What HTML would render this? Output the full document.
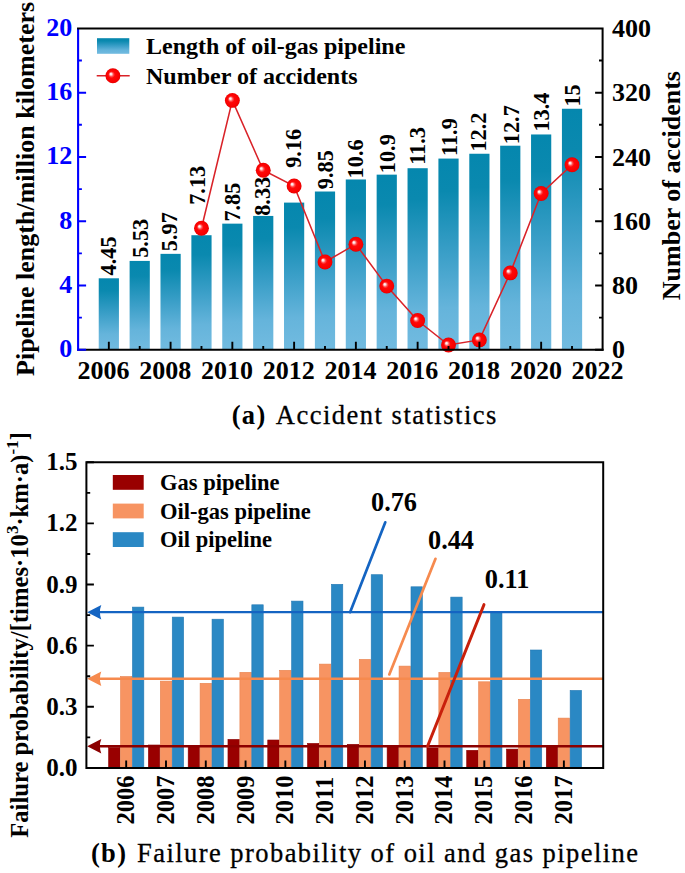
<!DOCTYPE html><html><head><meta charset="utf-8"><style>html,body{margin:0;padding:0;background:#fff;width:685px;height:873px;overflow:hidden;}svg{display:block}</style></head><body>
<svg width="685" height="873" viewBox="0 0 685 873">
<defs>
<linearGradient id="bg" x1="0" y1="0" x2="0" y2="1">
<stop offset="0" stop-color="#0587ae"/><stop offset="0.17" stop-color="#0a89af"/><stop offset="0.5" stop-color="#3b9fc8"/><stop offset="0.78" stop-color="#65b4db"/><stop offset="1" stop-color="#72bbe0"/>
</linearGradient>
<radialGradient id="ball" cx="0.5" cy="0.5" r="0.5" fx="0.345" fy="0.365">
<stop offset="0" stop-color="#ffffff"/><stop offset="0.12" stop-color="#ffe2e2"/><stop offset="0.3" stop-color="#ff4c4c"/><stop offset="0.45" stop-color="#ff0808"/><stop offset="0.9" stop-color="#f60000"/><stop offset="1" stop-color="#dc0000"/>
</radialGradient>
</defs>
<rect width="685" height="873" fill="#fff"/>
<rect x="98.73" y="278.29" width="20.2" height="71.51" fill="url(#bg)"/>
<rect x="129.61" y="260.93" width="20.2" height="88.87" fill="url(#bg)"/>
<rect x="160.49" y="253.86" width="20.2" height="95.94" fill="url(#bg)"/>
<rect x="191.37" y="235.22" width="20.2" height="114.58" fill="url(#bg)"/>
<rect x="222.25" y="223.65" width="20.2" height="126.15" fill="url(#bg)"/>
<rect x="253.13" y="215.94" width="20.2" height="133.86" fill="url(#bg)"/>
<rect x="284.01" y="202.60" width="20.2" height="147.20" fill="url(#bg)"/>
<rect x="314.89" y="191.51" width="20.2" height="158.29" fill="url(#bg)"/>
<rect x="345.77" y="179.46" width="20.2" height="170.34" fill="url(#bg)"/>
<rect x="376.65" y="174.64" width="20.2" height="175.16" fill="url(#bg)"/>
<rect x="407.53" y="168.21" width="20.2" height="181.59" fill="url(#bg)"/>
<rect x="438.41" y="158.57" width="20.2" height="191.23" fill="url(#bg)"/>
<rect x="469.29" y="153.75" width="20.2" height="196.05" fill="url(#bg)"/>
<rect x="500.17" y="145.71" width="20.2" height="204.09" fill="url(#bg)"/>
<rect x="531.05" y="134.46" width="20.2" height="215.34" fill="url(#bg)"/>
<rect x="561.93" y="108.75" width="20.2" height="241.05" fill="url(#bg)"/>
<text transform="translate(116.2,275.4) rotate(-90)" font-family="Liberation Serif" font-weight="bold" font-size="22.3" fill="#000">4.45</text>
<text transform="translate(147.6,257.8) rotate(-90)" font-family="Liberation Serif" font-weight="bold" font-size="22.3" fill="#000">5.53</text>
<text transform="translate(177.4,251.2) rotate(-90)" font-family="Liberation Serif" font-weight="bold" font-size="22.3" fill="#000">5.97</text>
<text transform="translate(205.2,204.8) rotate(-90)" font-family="Liberation Serif" font-weight="bold" font-size="22.3" fill="#000">7.13</text>
<text transform="translate(239.8,221.6) rotate(-90)" font-family="Liberation Serif" font-weight="bold" font-size="22.3" fill="#000">7.85</text>
<text transform="translate(270.0,215.8) rotate(-90)" font-family="Liberation Serif" font-weight="bold" font-size="22.3" fill="#000">8.33</text>
<text transform="translate(301.4,167.8) rotate(-90)" font-family="Liberation Serif" font-weight="bold" font-size="22.3" fill="#000">9.16</text>
<text transform="translate(332.6,189.2) rotate(-90)" font-family="Liberation Serif" font-weight="bold" font-size="22.3" fill="#000">9.85</text>
<text transform="translate(363.4,178.4) rotate(-90)" font-family="Liberation Serif" font-weight="bold" font-size="22.3" fill="#000">10.6</text>
<text transform="translate(394.5,173.2) rotate(-90)" font-family="Liberation Serif" font-weight="bold" font-size="22.3" fill="#000">10.9</text>
<text transform="translate(425.3,164.8) rotate(-90)" font-family="Liberation Serif" font-weight="bold" font-size="22.3" fill="#000">11.3</text>
<text transform="translate(456.8,156.0) rotate(-90)" font-family="Liberation Serif" font-weight="bold" font-size="22.3" fill="#000">11.9</text>
<text transform="translate(486.4,151.6) rotate(-90)" font-family="Liberation Serif" font-weight="bold" font-size="22.3" fill="#000">12.2</text>
<text transform="translate(518.5,144.2) rotate(-90)" font-family="Liberation Serif" font-weight="bold" font-size="22.3" fill="#000">12.7</text>
<text transform="translate(548.5,131.6) rotate(-90)" font-family="Liberation Serif" font-weight="bold" font-size="22.3" fill="#000">13.4</text>
<text transform="translate(579.8,106.6) rotate(-90)" font-family="Liberation Serif" font-weight="bold" font-size="22.3" fill="#000">15</text>
<polyline points="201.47,228.2 232.35,100.4 263.23,170.3 294.11,186.0 324.99,262.0 355.87,244.2 386.75,286.1 417.63,320.5 448.51,345.0 479.39,339.9 510.27,272.9 541.15,193.5 572.03,164.8" fill="none" stroke="#d92228" stroke-width="1.55"/>
<circle cx="201.47" cy="228.2" r="7.45" fill="url(#ball)"/>
<circle cx="232.35" cy="100.4" r="7.45" fill="url(#ball)"/>
<circle cx="263.23" cy="170.3" r="7.45" fill="url(#ball)"/>
<circle cx="294.11" cy="186.0" r="7.45" fill="url(#ball)"/>
<circle cx="324.99" cy="262.0" r="7.45" fill="url(#ball)"/>
<circle cx="355.87" cy="244.2" r="7.45" fill="url(#ball)"/>
<circle cx="386.75" cy="286.1" r="7.45" fill="url(#ball)"/>
<circle cx="417.63" cy="320.5" r="7.45" fill="url(#ball)"/>
<circle cx="448.51" cy="345.0" r="7.45" fill="url(#ball)"/>
<circle cx="479.39" cy="339.9" r="7.45" fill="url(#ball)"/>
<circle cx="510.27" cy="272.9" r="7.45" fill="url(#ball)"/>
<circle cx="541.15" cy="193.5" r="7.45" fill="url(#ball)"/>
<circle cx="572.03" cy="164.8" r="7.45" fill="url(#ball)"/>
<path d="M77.1,349.8 H603.6" stroke="#000" stroke-width="2" fill="none"/>
<path d="M78.1,28.4 V350.8" stroke="#0000ff" stroke-width="2.1" fill="none"/>
<path d="M108.83,349.8 V341.8M139.71,349.8 V346.0M170.59,349.8 V341.8M201.47,349.8 V346.0M232.35,349.8 V341.8M263.23,349.8 V346.0M294.11,349.8 V341.8M324.99,349.8 V346.0M355.87,349.8 V341.8M386.75,349.8 V346.0M417.63,349.8 V341.8M448.51,349.8 V346.0M479.39,349.8 V341.8M510.27,349.8 V346.0M541.15,349.8 V341.8M572.03,349.8 V346.0" stroke="#000" stroke-width="1.9"/>
<path d="M78.1,349.80 H86.1M78.1,317.66 H81.89999999999999M78.1,285.52 H86.1M78.1,253.38 H81.89999999999999M78.1,221.24 H86.1M78.1,189.10 H81.89999999999999M78.1,156.96 H86.1M78.1,124.82 H81.89999999999999M78.1,92.68 H86.1M78.1,60.54 H81.89999999999999" stroke="#0000ff" stroke-width="1.9"/>
<path d="M77.05,28.4 H603.6 M602.6,28.4 V350.8" stroke="#000" stroke-width="2" fill="none"/>
<path d="M602.6,349.80 H595.1M602.6,317.66 H599.0M602.6,285.52 H595.1M602.6,253.38 H599.0M602.6,221.24 H595.1M602.6,189.10 H599.0M602.6,156.96 H595.1M602.6,124.82 H599.0M602.6,92.68 H595.1M602.6,60.54 H599.0" stroke="#000" stroke-width="1.9"/>
<text x="72.2" y="357.2" text-anchor="end" font-family="Liberation Serif" font-weight="bold" font-size="26" fill="#0000ff">0</text>
<text x="72.2" y="292.9" text-anchor="end" font-family="Liberation Serif" font-weight="bold" font-size="26" fill="#0000ff">4</text>
<text x="72.2" y="228.6" text-anchor="end" font-family="Liberation Serif" font-weight="bold" font-size="26" fill="#0000ff">8</text>
<text x="72.2" y="164.4" text-anchor="end" font-family="Liberation Serif" font-weight="bold" font-size="26" fill="#0000ff">12</text>
<text x="72.2" y="100.1" text-anchor="end" font-family="Liberation Serif" font-weight="bold" font-size="26" fill="#0000ff">16</text>
<text x="72.2" y="35.8" text-anchor="end" font-family="Liberation Serif" font-weight="bold" font-size="26" fill="#0000ff">20</text>
<text x="612.1" y="358.3" font-family="Liberation Serif" font-weight="bold" font-size="26" fill="#000">0</text>
<text x="612.1" y="294.0" font-family="Liberation Serif" font-weight="bold" font-size="26" fill="#000">80</text>
<text x="612.1" y="229.7" font-family="Liberation Serif" font-weight="bold" font-size="26" fill="#000">160</text>
<text x="612.1" y="165.5" font-family="Liberation Serif" font-weight="bold" font-size="26" fill="#000">240</text>
<text x="612.1" y="101.2" font-family="Liberation Serif" font-weight="bold" font-size="26" fill="#000">320</text>
<text x="612.1" y="36.9" font-family="Liberation Serif" font-weight="bold" font-size="26" fill="#000">400</text>
<text x="103.5" y="379.3" text-anchor="middle" font-family="Liberation Serif" font-weight="bold" font-size="26" fill="#000">2006</text>
<text x="165.3" y="379.3" text-anchor="middle" font-family="Liberation Serif" font-weight="bold" font-size="26" fill="#000">2008</text>
<text x="227.1" y="379.3" text-anchor="middle" font-family="Liberation Serif" font-weight="bold" font-size="26" fill="#000">2010</text>
<text x="288.8" y="379.3" text-anchor="middle" font-family="Liberation Serif" font-weight="bold" font-size="26" fill="#000">2012</text>
<text x="350.6" y="379.3" text-anchor="middle" font-family="Liberation Serif" font-weight="bold" font-size="26" fill="#000">2014</text>
<text x="412.3" y="379.3" text-anchor="middle" font-family="Liberation Serif" font-weight="bold" font-size="26" fill="#000">2016</text>
<text x="474.1" y="379.3" text-anchor="middle" font-family="Liberation Serif" font-weight="bold" font-size="26" fill="#000">2018</text>
<text x="535.9" y="379.3" text-anchor="middle" font-family="Liberation Serif" font-weight="bold" font-size="26" fill="#000">2020</text>
<text x="597.6" y="379.3" text-anchor="middle" font-family="Liberation Serif" font-weight="bold" font-size="26" fill="#000">2022</text>
<rect x="97" y="38.2" width="32.3" height="15.6" fill="url(#bg)"/>
<path d="M96.7,75.8 H129.7" stroke="#d92228" stroke-width="1.55"/>
<circle cx="112.9" cy="75.8" r="7.45" fill="url(#ball)"/>
<text x="146" y="54" font-family="Liberation Serif" font-weight="bold" font-size="24" fill="#000">Length of oil-gas pipeline</text>
<text x="146" y="83.7" font-family="Liberation Serif" font-weight="bold" font-size="24" fill="#000">Number of accidents</text>
<text transform="translate(34.2,188.9) rotate(-90)" text-anchor="middle" font-family="Liberation Serif" font-weight="bold" font-size="26" fill="#000">Pipeline length/million kilometers</text>
<text transform="translate(679.8,185.6) rotate(-90)" text-anchor="middle" font-family="Liberation Serif" font-weight="bold" font-size="26" fill="#000">Number of accidents</text>
<text x="231.7" y="424.3" font-family="Liberation Serif" font-size="26.5" letter-spacing="1.35" font-weight="bold" fill="#000">(a)</text>
<text x="275.8" y="424.3" font-family="Liberation Serif" font-size="26.5" letter-spacing="1.5" fill="#000" stroke="#000" stroke-width="0.3">Accident statistics</text>
<rect x="108.60" y="747.60" width="11.38" height="20.30" fill="#990000" stroke="#8a0000" stroke-width="0.6"/>
<rect x="120.53" y="676.50" width="11.38" height="91.40" fill="#f79462" stroke="#e8834f" stroke-width="0.6"/>
<rect x="132.46" y="607.10" width="11.38" height="160.80" fill="#2a88c4" stroke="#2479b4" stroke-width="0.6"/>
<rect x="148.39" y="745.00" width="11.38" height="22.90" fill="#990000" stroke="#8a0000" stroke-width="0.6"/>
<rect x="160.32" y="681.10" width="11.38" height="86.80" fill="#f79462" stroke="#e8834f" stroke-width="0.6"/>
<rect x="172.25" y="617.10" width="11.38" height="150.80" fill="#2a88c4" stroke="#2479b4" stroke-width="0.6"/>
<rect x="188.18" y="746.50" width="11.38" height="21.40" fill="#990000" stroke="#8a0000" stroke-width="0.6"/>
<rect x="200.11" y="683.30" width="11.38" height="84.60" fill="#f79462" stroke="#e8834f" stroke-width="0.6"/>
<rect x="212.04" y="619.20" width="11.38" height="148.70" fill="#2a88c4" stroke="#2479b4" stroke-width="0.6"/>
<rect x="227.97" y="739.40" width="11.38" height="28.50" fill="#990000" stroke="#8a0000" stroke-width="0.6"/>
<rect x="239.90" y="672.30" width="11.38" height="95.60" fill="#f79462" stroke="#e8834f" stroke-width="0.6"/>
<rect x="251.83" y="604.80" width="11.38" height="163.10" fill="#2a88c4" stroke="#2479b4" stroke-width="0.6"/>
<rect x="267.76" y="740.00" width="11.38" height="27.90" fill="#990000" stroke="#8a0000" stroke-width="0.6"/>
<rect x="279.69" y="670.30" width="11.38" height="97.60" fill="#f79462" stroke="#e8834f" stroke-width="0.6"/>
<rect x="291.62" y="601.10" width="11.38" height="166.80" fill="#2a88c4" stroke="#2479b4" stroke-width="0.6"/>
<rect x="307.55" y="743.40" width="11.38" height="24.50" fill="#990000" stroke="#8a0000" stroke-width="0.6"/>
<rect x="319.48" y="664.10" width="11.38" height="103.80" fill="#f79462" stroke="#e8834f" stroke-width="0.6"/>
<rect x="331.41" y="584.30" width="11.38" height="183.60" fill="#2a88c4" stroke="#2479b4" stroke-width="0.6"/>
<rect x="347.34" y="744.30" width="11.38" height="23.60" fill="#990000" stroke="#8a0000" stroke-width="0.6"/>
<rect x="359.27" y="659.40" width="11.38" height="108.50" fill="#f79462" stroke="#e8834f" stroke-width="0.6"/>
<rect x="371.20" y="574.70" width="11.38" height="193.20" fill="#2a88c4" stroke="#2479b4" stroke-width="0.6"/>
<rect x="387.13" y="745.50" width="11.38" height="22.40" fill="#990000" stroke="#8a0000" stroke-width="0.6"/>
<rect x="399.06" y="666.10" width="11.38" height="101.80" fill="#f79462" stroke="#e8834f" stroke-width="0.6"/>
<rect x="410.99" y="586.80" width="11.38" height="181.10" fill="#2a88c4" stroke="#2479b4" stroke-width="0.6"/>
<rect x="426.92" y="747.90" width="11.38" height="20.00" fill="#990000" stroke="#8a0000" stroke-width="0.6"/>
<rect x="438.85" y="672.40" width="11.38" height="95.50" fill="#f79462" stroke="#e8834f" stroke-width="0.6"/>
<rect x="450.78" y="597.10" width="11.38" height="170.80" fill="#2a88c4" stroke="#2479b4" stroke-width="0.6"/>
<rect x="466.71" y="750.30" width="11.38" height="17.60" fill="#990000" stroke="#8a0000" stroke-width="0.6"/>
<rect x="478.64" y="681.80" width="11.38" height="86.10" fill="#f79462" stroke="#e8834f" stroke-width="0.6"/>
<rect x="490.57" y="612.00" width="11.38" height="155.90" fill="#2a88c4" stroke="#2479b4" stroke-width="0.6"/>
<rect x="506.50" y="749.10" width="11.38" height="18.80" fill="#990000" stroke="#8a0000" stroke-width="0.6"/>
<rect x="518.43" y="699.30" width="11.38" height="68.60" fill="#f79462" stroke="#e8834f" stroke-width="0.6"/>
<rect x="530.36" y="650.00" width="11.38" height="117.90" fill="#2a88c4" stroke="#2479b4" stroke-width="0.6"/>
<rect x="546.29" y="745.50" width="11.38" height="22.40" fill="#990000" stroke="#8a0000" stroke-width="0.6"/>
<rect x="558.22" y="718.10" width="11.38" height="49.80" fill="#f79462" stroke="#e8834f" stroke-width="0.6"/>
<rect x="570.15" y="690.40" width="11.38" height="77.50" fill="#2a88c4" stroke="#2479b4" stroke-width="0.6"/>
<path d="M99,612.2 H603.2" stroke="#1464c2" stroke-width="2.3"/>
<path d="M87.2,612.2 L101.3,605.0 Q98.5,612.2 101.3,619.4000000000001 Z" fill="#1464c2"/>
<path d="M99,678.8 H603.2" stroke="#f68a4e" stroke-width="2.5"/>
<path d="M87.2,678.8 L101.3,671.5999999999999 Q98.5,678.8 101.3,686.0 Z" fill="#f68a4e"/>
<path d="M99,746.3 H603.2" stroke="#8c0000" stroke-width="2.4"/>
<path d="M87.2,746.3 L101.3,739.0999999999999 Q98.5,746.3 101.3,753.5 Z" fill="#8c0000"/>
<path d="M350.1,612.2 L385.3,522.3" stroke="#1464c2" stroke-width="2.7" stroke-linecap="round"/>
<path d="M389.3,674.4 L435.5,558.8" stroke="#f68a4e" stroke-width="2.7" stroke-linecap="round"/>
<path d="M427.5,746.4 L484.0,604.6" stroke="#c8200c" stroke-width="2.9" stroke-linecap="round"/>
<text x="371" y="511.2" font-family="Liberation Serif" font-weight="bold" font-size="26.3" fill="#000">0.76</text>
<text x="428" y="549.2" font-family="Liberation Serif" font-weight="bold" font-size="26.3" fill="#000">0.44</text>
<text x="484.8" y="588.0" font-family="Liberation Serif" font-weight="bold" font-size="26.3" fill="#000">0.11</text>
<path d="M85.4,462.3 H604.2 M603.2,462.3 V768.9 M85.4,767.9 H604.2 M86.4,462.3 V768.9" stroke="#000" stroke-width="2" fill="none"/>
<path d="M126.19,767.9 V760.4M165.99,767.9 V760.4M205.78,767.9 V760.4M245.57,767.9 V760.4M285.35,767.9 V760.4M325.14,767.9 V760.4M364.94,767.9 V760.4M404.72,767.9 V760.4M444.51,767.9 V760.4M484.31,767.9 V760.4M524.10,767.9 V760.4M563.88,767.9 V760.4M86.4,767.90 H93.9M86.4,737.34 H90.2M86.4,706.78 H93.9M86.4,676.22 H90.2M86.4,645.66 H93.9M86.4,615.10 H90.2M86.4,584.54 H93.9M86.4,553.98 H90.2M86.4,523.42 H93.9M86.4,492.86 H90.2M86.4,462.30 H93.9" stroke="#000" stroke-width="1.9"/>
<text x="77.6" y="775.9" text-anchor="end" font-family="Liberation Serif" font-weight="bold" font-size="25" fill="#000">0.0</text>
<text x="77.6" y="714.8" text-anchor="end" font-family="Liberation Serif" font-weight="bold" font-size="25" fill="#000">0.3</text>
<text x="77.6" y="653.7" text-anchor="end" font-family="Liberation Serif" font-weight="bold" font-size="25" fill="#000">0.6</text>
<text x="77.6" y="592.5" text-anchor="end" font-family="Liberation Serif" font-weight="bold" font-size="25" fill="#000">0.9</text>
<text x="77.6" y="531.4" text-anchor="end" font-family="Liberation Serif" font-weight="bold" font-size="25" fill="#000">1.2</text>
<text x="77.6" y="470.3" text-anchor="end" font-family="Liberation Serif" font-weight="bold" font-size="25" fill="#000">1.5</text>
<text transform="translate(134.1,824.4) rotate(-90)" font-family="Liberation Serif" font-weight="bold" font-size="24.5" fill="#000">2006</text>
<text transform="translate(173.9,824.4) rotate(-90)" font-family="Liberation Serif" font-weight="bold" font-size="24.5" fill="#000">2007</text>
<text transform="translate(213.7,824.4) rotate(-90)" font-family="Liberation Serif" font-weight="bold" font-size="24.5" fill="#000">2008</text>
<text transform="translate(253.5,824.4) rotate(-90)" font-family="Liberation Serif" font-weight="bold" font-size="24.5" fill="#000">2009</text>
<text transform="translate(293.3,824.4) rotate(-90)" font-family="Liberation Serif" font-weight="bold" font-size="24.5" fill="#000">2010</text>
<text transform="translate(333.0,824.4) rotate(-90)" font-family="Liberation Serif" font-weight="bold" font-size="24.5" fill="#000">2011</text>
<text transform="translate(372.8,824.4) rotate(-90)" font-family="Liberation Serif" font-weight="bold" font-size="24.5" fill="#000">2012</text>
<text transform="translate(412.6,824.4) rotate(-90)" font-family="Liberation Serif" font-weight="bold" font-size="24.5" fill="#000">2013</text>
<text transform="translate(452.4,824.4) rotate(-90)" font-family="Liberation Serif" font-weight="bold" font-size="24.5" fill="#000">2014</text>
<text transform="translate(492.2,824.4) rotate(-90)" font-family="Liberation Serif" font-weight="bold" font-size="24.5" fill="#000">2015</text>
<text transform="translate(532.0,824.4) rotate(-90)" font-family="Liberation Serif" font-weight="bold" font-size="24.5" fill="#000">2016</text>
<text transform="translate(571.8,824.4) rotate(-90)" font-family="Liberation Serif" font-weight="bold" font-size="24.5" fill="#000">2017</text>
<rect x="112.8" y="475.0" width="30.9" height="14.8" fill="#990000"/>
<text x="160" y="490.2" font-family="Liberation Serif" font-weight="bold" font-size="22.5" fill="#000">Gas pipeline</text>
<rect x="112.8" y="503.6" width="30.9" height="14.8" fill="#f79462"/>
<text x="160" y="518.8" font-family="Liberation Serif" font-weight="bold" font-size="22.5" fill="#000">Oil-gas pipeline</text>
<rect x="112.8" y="532.2" width="30.9" height="14.8" fill="#2a88c4"/>
<text x="160" y="547.4" font-family="Liberation Serif" font-weight="bold" font-size="22.5" fill="#000">Oil pipeline</text>
<text transform="translate(27.9,837.8) rotate(-90)" font-family="Liberation Serif" font-weight="bold" font-size="24.65" fill="#000">Failure probability/[times·10<tspan font-size="17" dy="-9.5">3</tspan><tspan dy="9.5">·km·a)</tspan><tspan font-size="17" dy="-9.5">-1</tspan><tspan dy="9.5">]</tspan></text>
<text x="90.9" y="862.1" font-family="Liberation Serif" font-size="26.5" letter-spacing="1.35" font-weight="bold" fill="#000">(b)</text>
<text x="137.0" y="862.1" font-family="Liberation Serif" font-size="26.5" letter-spacing="1.45" fill="#000" stroke="#000" stroke-width="0.3">Failure probability of oil and gas pipeline</text>
</svg></body></html>
